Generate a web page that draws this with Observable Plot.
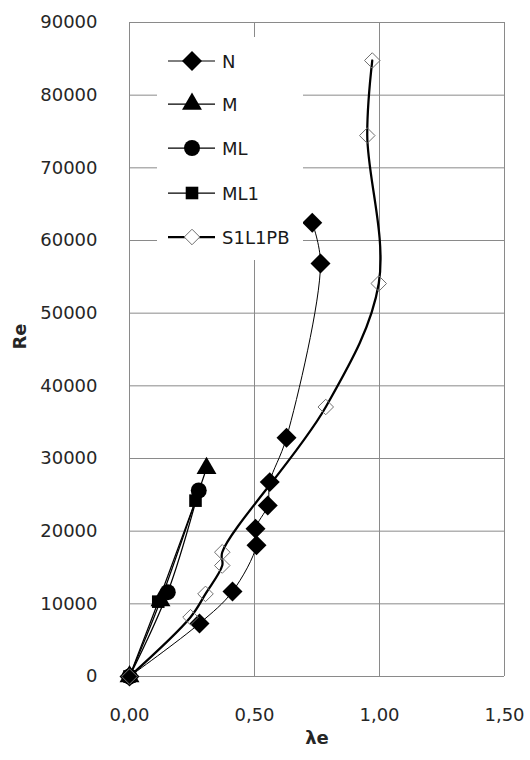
<!DOCTYPE html>
<html>
<head>
<meta charset="utf-8">
<script src="https://cdn.jsdelivr.net/npm/d3@7"></script>
<script src="https://cdn.jsdelivr.net/npm/@observablehq/plot@0.6"></script>
<style>
  body { margin: 0; background: #fff; }
  #wrap { position: relative; width: 530px; height: 760px; }
  #legend { position: absolute; left: 157px; top: 37px; width: 146px; height: 223px; background: #fff;
            font-family: "DejaVu Sans", sans-serif; font-size: 18px; color: #1a1a1a; }
  .row { position: absolute; left: 11px; height: 24px; display: flex; align-items: center; }
  .row svg { display: block; }
  .row span { margin-left: 7px; white-space: nowrap; }
</style>
</head>
<body>
<div id="wrap"><div id="legend"></div></div>
<script>
// ---- data ----
const xTicks = [0, 0.5, 1, 1.5];
const yTicks = [0, 10000, 20000, 30000, 40000, 50000, 60000, 70000, 80000, 90000];

const seriesNames = ["N", "M", "ML", "ML1", "S1L1PB"];

const nX = [0, 0.28, 0.412, 0.508, 0.504, 0.553, 0.561, 0.628, 0.764, 0.731];
const nY = [0, 7300, 11700, 18050, 20340, 23540, 26750, 32870, 56850, 62440];

const mX = [0, 0.124, 0.308];
const mY = [0, 10450, 28650];

const mlX = [0, 0.153, 0.277];
const mlY = [0, 11600, 25600];

const ml1X = [0, 0.115, 0.264];
const ml1Y = [0, 10300, 24200];

const sX = [0, 0.244, 0.304, 0.371, 0.371, 0.785, 0.997, 0.951, 0.971];
const sY = [0, 8160, 11370, 15270, 17100, 37090, 54080, 74440, 84770];

// ---- styles ----
const styles = {
  "N":      {symbol: "diamond2", r: 9,   fill: "black", stroke: "none",    lw: 1},
  "M":      {symbol: "triangle", r: 7.4, fill: "black", stroke: "none",    lw: 1.25},
  "ML":     {symbol: "circle",   r: 8,   fill: "black", stroke: "none",    lw: 1.25},
  "ML1":    {symbol: "square",   r: 7.1, fill: "black", stroke: "none",    lw: 1.25},
  "S1L1PB": {symbol: "diamond2", r: 7,   fill: "none",  stroke: "#707070", lw: 2.25}
};

const raw = {"N": [nX, nY], "M": [mX, mY], "ML": [mlX, mlY], "ML1": [ml1X, ml1Y], "S1L1PB": [sX, sY]};
const tables = seriesNames.map(name => ({
  name,
  data: raw[name][0].map((x, i) => ({x, y: raw[name][1][i]}))
}));

const fmt = d => d.toFixed(2).replace(".", ",");

const marks = [
  Plot.gridX(xTicks, {stroke: "#8a8a8a", strokeOpacity: 1, strokeWidth: 1}),
  Plot.gridY(yTicks, {stroke: "#8a8a8a", strokeOpacity: 1, strokeWidth: 1}),
  Plot.axisX(xTicks, {tickSize: 0, tickPadding: 32, tickFormat: fmt, label: null}),
  Plot.axisY(yTicks, {tickSize: 0, tickPadding: 32, tickFormat: d => String(d), label: null}),
  Plot.text(["Re"], {frameAnchor: "left", dx: -109, rotate: -90, fontWeight: "bold", fontSize: 18, lineAnchor: "middle"}),
  Plot.text(["λe"], {frameAnchor: "bottom", dy: 62, fontWeight: "bold", fontSize: 18, lineAnchor: "middle"})
];

for (const t of tables) {
  const s = styles[t.name];
  marks.push(Plot.line(t.data, {x: "x", y: "y", stroke: "black", strokeWidth: s.lw, curve: "catmull-rom"}));
  marks.push(Plot.dot(t.data, {x: "x", y: "y", symbol: s.symbol, r: s.r, fill: s.fill, stroke: s.stroke, strokeWidth: 1}));
}

const chart = Plot.plot({
  width: 530,
  height: 760,
  marginLeft: 129,
  marginRight: 26,
  marginTop: 22,
  marginBottom: 84,
  x: {domain: [0, 1.5]},
  y: {domain: [0, 90000]},
  style: {fontFamily: "DejaVu Sans, sans-serif", fontSize: "18px", color: "#262626", background: "white", overflow: "visible"},
  marks
});
document.getElementById("wrap").insertBefore(chart, document.getElementById("legend"));

// ---- legend ----
const symMap = {diamond2: d3.symbolDiamond2, triangle: d3.symbolTriangle, circle: d3.symbolCircle, square: d3.symbolSquare};
const rowCenters = [24, 67, 111, 156, 200];
const legend = d3.select("#legend");
seriesNames.forEach((name, i) => {
  const s = styles[name];
  const row = legend.append("div").attr("class", "row").style("top", (rowCenters[i] - 12) + "px");
  const svg = row.append("svg").attr("width", 47).attr("height", 24);
  svg.append("line").attr("x1", 0).attr("x2", 47).attr("y1", 12).attr("y2", 12)
     .attr("stroke", "black").attr("stroke-width", s.lw);
  svg.append("path")
     .attr("transform", "translate(24,12)")
     .attr("d", d3.symbol(symMap[s.symbol], Math.PI * s.r * s.r)())
     .attr("fill", s.fill === "none" ? "white" : s.fill)
     .attr("stroke", s.stroke).attr("stroke-width", 1);
  row.append("span").text(name);
});
</script>
</body>
</html>
